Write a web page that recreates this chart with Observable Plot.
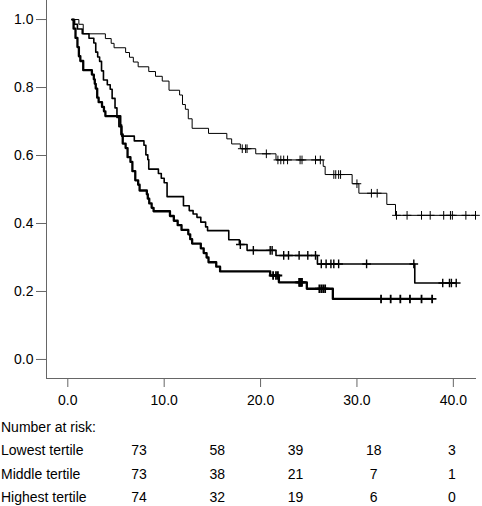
<!DOCTYPE html>
<html><head><meta charset="utf-8">
<script src="https://cdn.jsdelivr.net/npm/d3@7"></script>
<script src="https://cdn.jsdelivr.net/npm/@observablehq/plot@0.6"></script>
<style>
body{margin:0;background:#fff;font-family:"Liberation Sans",Arial,sans-serif;}
#chart svg{display:block}
#risk{position:relative;width:482px;font-size:14px;color:#000}
.row{position:relative;height:23.3px;line-height:23.3px;}
.row span{position:absolute;top:0;white-space:nowrap}
</style></head><body><div id="chart"></div><div id="risk"></div>
<script>
// ---- data ----
const xTicks = [0, 10, 20, 30, 40];
const yTicks = [0, 0.2, 0.4, 0.6, 0.8, 1.0];

const lowTimes = [0.45, 1.15, 1.6, 3.9, 4.5, 4.8, 6.0, 6.4, 6.8, 7.3, 8.4, 9.1, 9.8, 10.5, 11.6, 11.9, 12.2, 12.5, 12.9, 14.6, 16.5, 17.0, 17.9, 19.5, 21.6, 26.5, 26.7, 29.5, 30.2, 33.1, 34.0];
const lowSurv  = [1.0, 0.986, 0.958, 0.944, 0.930, 0.917, 0.903, 0.889, 0.875, 0.861, 0.847, 0.833, 0.819, 0.792, 0.778, 0.750, 0.736, 0.708, 0.680, 0.665, 0.649, 0.634, 0.620, 0.605, 0.587, 0.568, 0.544, 0.517, 0.489, 0.456, 0.424];
const lowCensor = [18.1, 18.45, 18.6, 20.6, 21.8, 22.1, 22.4, 22.8, 24.1, 24.3, 25.7, 26.2, 27.6, 27.8, 28.1, 28.3, 30.0, 31.5, 32.1, 34.1, 35.2, 36.7, 37.6, 39.0, 39.7, 39.9, 41.3, 42.3];

const midTimes = [0.45, 0.7, 1.0, 1.5, 2.2, 2.7, 2.9, 3.1, 3.3, 3.5, 3.7, 4.1, 4.4, 4.6, 4.9, 5.1, 5.3, 5.6, 6.9, 7.9, 8.1, 8.3, 8.4, 9.4, 9.7, 10.0, 10.3, 12.0, 12.6, 13.0, 13.4, 13.8, 14.3, 14.5, 16.7, 17.8, 18.6, 21.6, 25.9, 36.0];
const midSurv  = [1.0, 0.986, 0.972, 0.958, 0.945, 0.931, 0.904, 0.890, 0.877, 0.849, 0.822, 0.808, 0.795, 0.768, 0.740, 0.712, 0.685, 0.657, 0.643, 0.630, 0.602, 0.588, 0.560, 0.547, 0.533, 0.520, 0.479, 0.452, 0.438, 0.428, 0.418, 0.404, 0.390, 0.379, 0.352, 0.338, 0.321, 0.306, 0.281, 0.225];
const midCensor = [17.9, 19.25, 21.0, 21.2, 22.4, 22.9, 24.0, 24.9, 25.7, 26.3, 26.8, 27.3, 27.6, 28.1, 31.0, 35.9, 38.9, 39.6, 39.8, 40.3];

const highTimes = [0.45, 0.6, 0.8, 1.0, 1.15, 1.3, 1.6, 2.5, 2.7, 2.8, 2.9, 3.05, 3.2, 3.55, 3.75, 3.9, 5.45, 5.55, 5.7, 6.0, 6.2, 6.5, 6.7, 7.0, 7.3, 7.45, 8.2, 8.3, 8.45, 8.7, 8.9, 10.6, 11.0, 11.4, 11.8, 12.5, 12.7, 12.9, 13.8, 14.1, 14.4, 14.6, 15.4, 15.8, 21.0, 21.9, 24.8, 27.5];
const highSurv  = [1.0, 0.973, 0.946, 0.919, 0.892, 0.878, 0.851, 0.838, 0.824, 0.811, 0.797, 0.770, 0.757, 0.743, 0.730, 0.716, 0.689, 0.662, 0.635, 0.622, 0.595, 0.581, 0.554, 0.527, 0.514, 0.497, 0.486, 0.473, 0.459, 0.446, 0.436, 0.422, 0.408, 0.395, 0.381, 0.368, 0.354, 0.341, 0.327, 0.313, 0.300, 0.286, 0.273, 0.259, 0.247, 0.227, 0.208, 0.178];
const highCensor = [21.3, 21.6, 21.8, 24.0, 24.1, 24.2, 24.3, 26.1, 26.3, 26.5, 26.7, 32.5, 33.5, 34.5, 35.5, 36.7, 37.8];

const riskHeader = "Number at risk:";
const groupNames = ["Lowest tertile", "Middle tertile", "Highest tertile"];
const riskLow  = [73, 58, 39, 18, 3];
const riskMid  = [73, 38, 21, 7, 1];
const riskHigh = [74, 32, 19, 6, 0];

// ---- build ----
function survAt(times, surv, t) {
  let s = surv[0];
  for (let i = 0; i < times.length; i++) if (times[i] <= t) s = surv[i];
  return s;
}
function stepData(times, surv, censor) {
  const pts = times.map((t, i) => ({t, s: surv[i]}));
  const end = Math.max(times[times.length - 1], censor[censor.length - 1]);
  pts.push({t: end, s: surv[surv.length - 1]});
  return pts;
}
function censorData(times, surv, censor) {
  return censor.map(t => ({t, s: survAt(times, surv, t)}));
}
const series = [
  {times: lowTimes, surv: lowSurv, censor: lowCensor, w: 1.0, cw: 1.0},
  {times: midTimes, surv: midSurv, censor: midCensor, w: 1.6, cw: 1.4},
  {times: highTimes, surv: highSurv, censor: highCensor, w: 2.3, cw: 1.8}
];

const marks = [
  Plot.axisX({ticks: xTicks, tickSize: 9, tickPadding: 8, tickFormat: d3.format(".1f"), stroke: "#666", fill: "#000", label: null}),
  Plot.axisY({ticks: yTicks, tickSize: 10, tickPadding: 3, tickFormat: d3.format(".1f"), stroke: "#666", fill: "#000", label: null}),
  Plot.frame({anchor: "left", stroke: "#666"}),
  Plot.frame({anchor: "bottom", stroke: "#666"})
];
for (const sr of series) {
  marks.push(Plot.line(stepData(sr.times, sr.surv, sr.censor), {x: "t", y: "s", curve: "step-after", stroke: "#000", strokeWidth: sr.w}));
  marks.push(Plot.dot(censorData(sr.times, sr.surv, sr.censor), {x: "t", y: "s", symbol: "plus", r: 2.9, stroke: "#000", strokeWidth: sr.cw}));
}

const chart = Plot.plot({
  width: 482, height: 416,
  marginLeft: 46, marginRight: 7, marginTop: 0, marginBottom: 38,
  style: {fontFamily: "Liberation Sans, Arial, sans-serif", fontSize: "14px", background: "white", overflow: "visible"},
  x: {domain: [-2.21, 42.3]},
  y: {domain: [-0.056, 1.056]},
  marks
});
document.getElementById("chart").appendChild(chart);

// ---- number at risk table ----
const risk = document.getElementById("risk");
function addRow(label, values) {
  const row = document.createElement("div");
  row.className = "row";
  const lab = document.createElement("span");
  lab.textContent = label; lab.style.left = "1px";
  row.appendChild(lab);
  (values || []).forEach((v, k) => {
    const sp = document.createElement("span");
    sp.textContent = v;
    sp.style.left = (139 + 78.25 * k) + "px";
    sp.style.transform = "translateX(-50%)";
    row.appendChild(sp);
  });
  risk.appendChild(row);
}
addRow(riskHeader, null);
addRow(groupNames[0], riskLow);
addRow(groupNames[1], riskMid);
addRow(groupNames[2], riskHigh);
</script></body></html>
